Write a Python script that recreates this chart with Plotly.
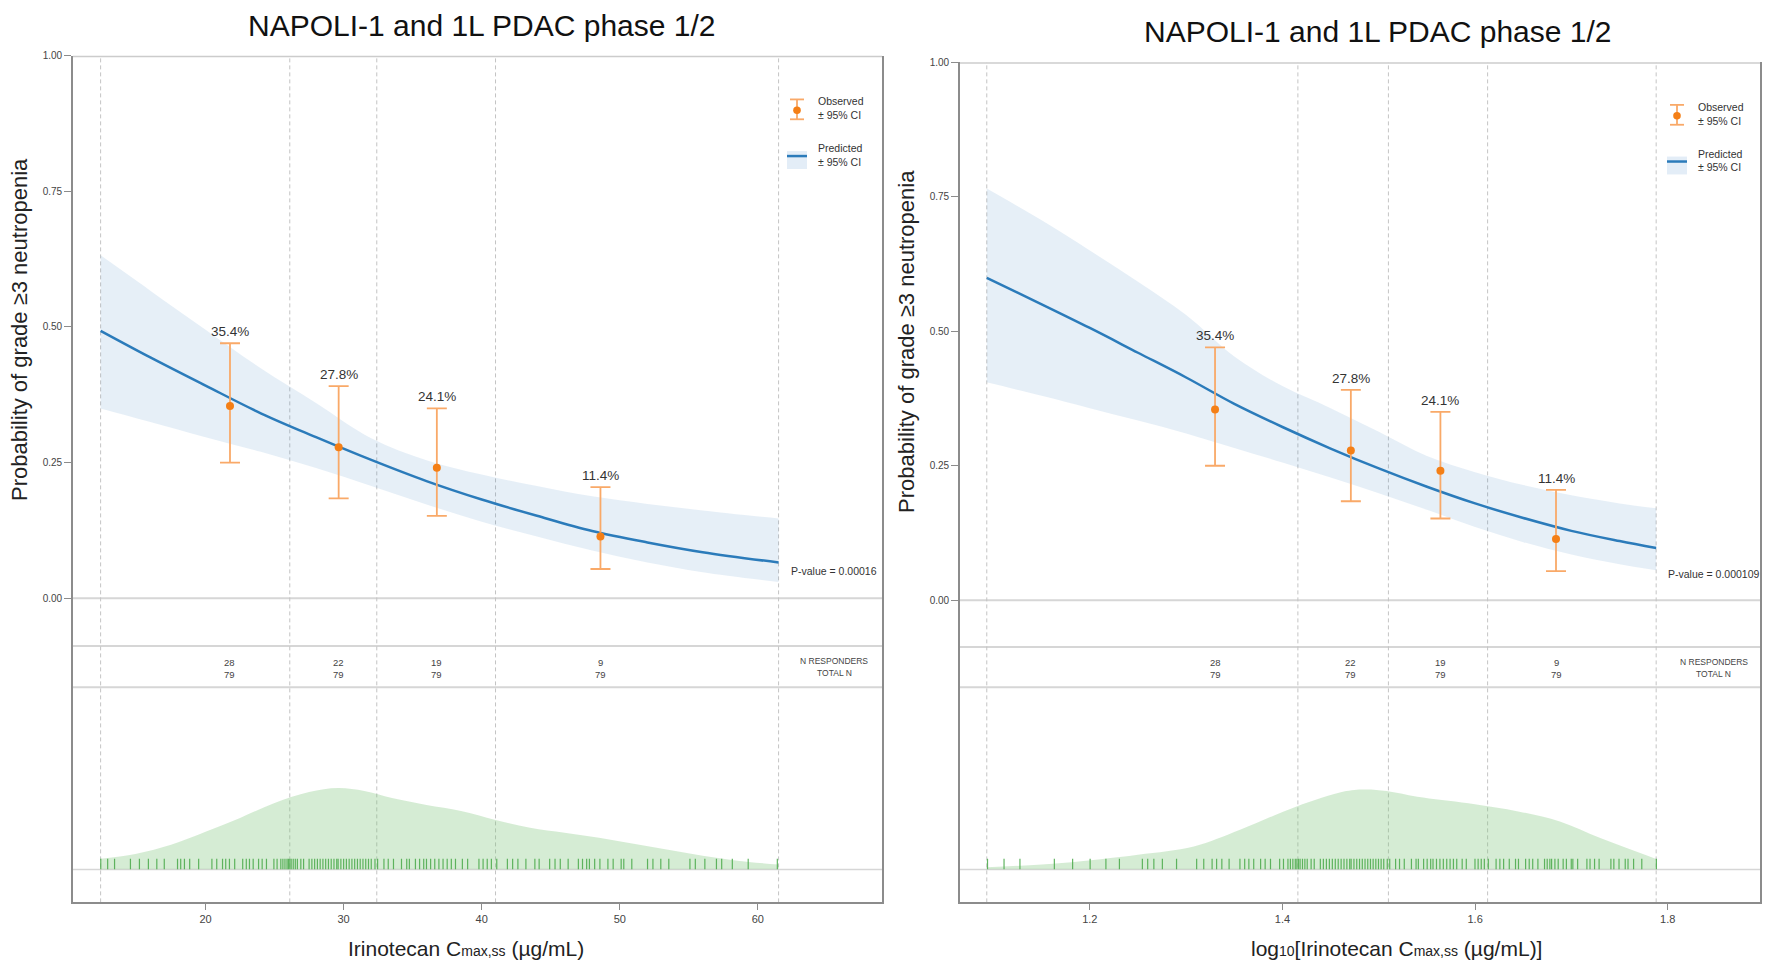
import plotly.graph_objects as go
import math

W, H = 1771, 964

# ---------------- data ----------------
panel_title = "NAPOLI-1 and 1L PDAC phase 1/2"
n_responders = [28, 22, 19, 9]
n_total = [79, 79, 79, 79]
obs_ci_lower = [0.250, 0.184, 0.152, 0.054]
obs_ci_upper = [0.470, 0.391, 0.350, 0.205]
p_value_lin = "0.00016"
p_value_log = "0.000109"

# left panel: Cmax (µg/mL)
bin_edges_lin = [12.4, 26.1, 32.4, 41.0, 61.5]
obs_x_lin = [21.77, 29.64, 36.75, 48.6]
pred_x_lin = [12.4, 16, 20, 24, 28, 32, 36, 40, 44, 48, 52, 56, 61.5]
pred_lin = [0.493, 0.444, 0.392, 0.341, 0.297, 0.255, 0.216, 0.182, 0.152, 0.124, 0.103, 0.085, 0.066]
pred_lin_upper = [0.632, 0.567, 0.495, 0.424, 0.360, 0.295, 0.2545, 0.228, 0.207, 0.188, 0.174, 0.162, 0.147]
pred_lin_lower = [0.350, 0.325, 0.297, 0.270, 0.240, 0.207, 0.173, 0.141, 0.114, 0.088, 0.066, 0.048, 0.030]
dens_x_lin = [12.4, 15, 17.5, 20, 22.5, 25, 27.5, 29.6, 31.5, 33.5, 36, 38.5, 41, 43.5, 46, 48.5, 51, 53.5, 56, 58.5, 61.5]
dens_lin = [11, 16, 25, 38, 52, 67, 78, 82, 79, 72, 65, 59, 50, 42, 37, 32, 26, 20, 14, 9, 5]

# right panel: log10 Cmax
bin_edges_log = [1.093, 1.416, 1.510, 1.613, 1.788]
obs_x_log = [1.330, 1.471, 1.564, 1.684]
pred_x_log = [1.093, 1.15, 1.20, 1.25, 1.30, 1.35, 1.40, 1.45, 1.50, 1.55, 1.60, 1.65, 1.70, 1.75, 1.788]
pred_log = [0.599, 0.550, 0.506, 0.460, 0.414, 0.365, 0.322, 0.282, 0.245, 0.211, 0.180, 0.153, 0.129, 0.110, 0.097]
pred_log_upper = [0.765, 0.706, 0.650, 0.592, 0.530, 0.453, 0.398, 0.357, 0.313, 0.268, 0.238, 0.214, 0.195, 0.180, 0.171]
pred_log_lower = [0.405, 0.380, 0.357, 0.334, 0.310, 0.283, 0.256, 0.228, 0.199, 0.168, 0.136, 0.108, 0.085, 0.067, 0.056]
dens_x_log = [1.093, 1.171, 1.250, 1.308, 1.356, 1.414, 1.466, 1.487, 1.508, 1.540, 1.593, 1.646, 1.688, 1.730, 1.788]
dens_log = [2.3, 6.7, 15, 23.3, 40, 63.3, 79, 80.7, 79, 73.3, 66.7, 58.3, 48.3, 31.7, 10.7]

# individual exposures (rug), µg/mL
rug_cmax = [12.41, 12.91, 13.41, 14.56, 15.21, 15.86, 16.47, 17.01, 17.97, 18.20, 18.47, 18.85, 19.50,
            20.46, 20.81, 21.23, 21.46, 21.73, 22.11, 22.69, 22.95, 23.18, 23.45, 23.84, 24.10, 24.41,
            24.95, 25.18, 25.45, 25.6, 25.75, 25.9, 26.0, 26.1, 26.2, 26.35, 26.5, 26.65, 26.9, 27.1,
            27.5, 27.7, 27.9, 28.1, 28.3, 28.5, 28.7, 28.9, 29.1, 29.3, 29.5, 29.6, 29.8, 30.0, 30.2,
            30.4, 30.6, 30.8, 31.0, 31.2, 31.4, 31.6, 31.8, 32.0, 32.27, 32.46, 32.92, 33.23, 33.61,
            34.19, 34.57, 34.76, 35.2, 35.5, 35.8, 36.0, 36.3, 36.6, 36.9, 37.2, 37.5, 37.8, 38.1, 38.6,
            38.98, 39.8, 40.1, 40.4, 40.7, 41.09, 41.86, 42.24, 42.62, 43.2, 43.85, 44.16, 44.92, 45.31,
            45.69, 46.26, 47.0, 47.3, 47.6, 47.8, 48.18, 48.56, 49.14, 49.52, 50.1, 50.29, 50.87, 52.01,
            52.4, 52.97, 53.55, 55.08, 55.47, 56.16, 57.0, 57.38, 58.15, 59.3, 61.41]
rug_log = [math.log10(v) for v in rug_cmax]

x_ticks_lin = [20, 30, 40, 50, 60]
x_ticks_log = [1.2, 1.4, 1.6, 1.8]
y_ticks = [0, 0.25, 0.5, 0.75, 1.0]

# ---------------- styles ----------------
FONT = "Liberation Sans, Arial, sans-serif"
BLUE = "#2b7bba"
BAND = "rgba(60,130,195,0.13)"
BAND_LEG = "#e3edf7"
ORANGE_BAR = "#f9a968"
ORANGE_DOT = "#f47f16"
GREEN_FILL = "rgba(125,195,120,0.32)"
GREEN_RUG = "rgba(80,172,80,0.9)"
FRAME = "#8c8c8c"
LIGHT = "#d6d6d6"
DASH = "#c4c4c4"


def px(x):
    return x / W


def py(y):
    return 1 - y / H


panels = [
    dict(xa="x", ya="y", ya_d="y3", xname="xaxis", yname="yaxis", dname="yaxis3",
         left=73, right=882, top=50, zero=596, bottom=902,
         xrange=[10.40, 68.99], xticks=x_ticks_lin,
         edges=bin_edges_lin, ox=obs_x_lin, predx=pred_x_lin, pred=pred_lin,
         up=pred_lin_upper, lo=pred_lin_lower, dx=dens_x_lin, d=dens_lin, rug=rug_cmax,
         title_x=482, title_y=20, ytitle_x=20, ytitle_y=326,
         xtitle="Irinotecan C<span style='font-size:14px'>max,ss</span> (µg/mL)",
         xtitle_x=466, nband=(644, 685.5), nrow=(660.5, 672.5), nlab_x=834,
         pval=p_value_lin, pval_x=834, pval_y=569, leg_dx=0, leg_dy=0),
    dict(xa="x2", ya="y2", ya_d="y4", xname="xaxis2", yname="yaxis2", dname="yaxis4",
         left=960, right=1760, top=56.5, zero=598, bottom=902,
         xrange=[1.0652, 1.8958], xticks=x_ticks_log,
         edges=bin_edges_log, ox=obs_x_log, predx=pred_x_log, pred=pred_log,
         up=pred_log_upper, lo=pred_log_lower, dx=dens_x_log, d=dens_log, rug=rug_log,
         title_x=1378, title_y=25.5, ytitle_x=907, ytitle_y=338,
         xtitle="log<span style='font-size:14px'>10</span>[Irinotecan C<span style='font-size:14px'>max,ss</span> (µg/mL)]",
         xtitle_x=1396, nband=(645, 685.6), nrow=(661, 673), nlab_x=1713.5,
         pval=p_value_log, pval_x=1714, pval_y=571.5, leg_dx=880, leg_dy=5.5),
]

fig = go.Figure()
shapes = []
annotations = []
layout = {}

for p in panels:
    ymin = -(p["bottom"] - p["zero"]) / (p["zero"] - p["top"])
    xa, ya, yd = p["xa"], p["ya"], p["ya_d"]

    # prediction band
    fig.add_trace(go.Scatter(x=p["predx"], y=p["lo"], xaxis=xa, yaxis=ya, mode="lines",
                             line=dict(width=0, color=BAND, shape="spline"), showlegend=False,
                             hoverinfo="skip"))
    fig.add_trace(go.Scatter(x=p["predx"], y=p["up"], xaxis=xa, yaxis=ya, mode="lines",
                             fill="tonexty", fillcolor=BAND,
                             line=dict(width=0, color=BAND, shape="spline"), showlegend=False,
                             hoverinfo="skip"))
    # predicted curve
    fig.add_trace(go.Scatter(x=p["predx"], y=p["pred"], xaxis=xa, yaxis=ya, mode="lines",
                             line=dict(width=2.5, color=BLUE, shape="spline"), showlegend=False))
    # observed
    props = [r / t for r, t in zip(n_responders, n_total)]
    fig.add_trace(go.Scatter(
        x=p["ox"], y=props, xaxis=xa, yaxis=ya, mode="markers",
        marker=dict(size=8, color=ORANGE_DOT),
        error_y=dict(type="data", symmetric=False,
                     array=[u - v for u, v in zip(obs_ci_upper, props)],
                     arrayminus=[v - l for v, l in zip(props, obs_ci_lower)],
                     color=ORANGE_BAR, thickness=1.8, width=10),
        showlegend=False))
    # density
    fig.add_trace(go.Scatter(x=p["dx"], y=p["d"], xaxis=xa, yaxis=yd, mode="lines",
                             fill="tozeroy", fillcolor=GREEN_FILL,
                             line=dict(width=0, color=GREEN_FILL, shape="spline"),
                             showlegend=False, hoverinfo="skip"))
    # rug
    rx, ry = [], []
    for v in p["rug"]:
        rx += [v, v, None]
        ry += [0, 11, None]
    fig.add_trace(go.Scatter(x=rx, y=ry, xaxis=xa, yaxis=yd, mode="lines",
                             line=dict(width=1.2, color=GREEN_RUG), showlegend=False,
                             hoverinfo="skip"))

    # axes
    layout[p["xname"]] = dict(
        domain=[px(p["left"]), px(p["right"])], range=p["xrange"], anchor=ya,
        tickmode="array", tickvals=p["xticks"], ticks="outside", ticklen=6, tickwidth=1.2,
        tickcolor=FRAME, showline=True, linecolor=FRAME, linewidth=1.6, mirror=False,
        showgrid=False, zeroline=False, tickfont=dict(size=11, color="#444", family=FONT))
    layout[p["yname"]] = dict(
        domain=[py(p["bottom"]), py(p["top"])], range=[ymin, 1.0], anchor=xa,
        tickmode="array", tickvals=y_ticks, tickformat=".2f", ticks="outside", ticklen=7,
        tickwidth=1.2, tickcolor=FRAME, showline=True, linecolor=FRAME, linewidth=1.6,
        mirror=True, showgrid=False, zeroline=False,
        tickfont=dict(size=10, color="#444", family=FONT))
    layout[p["dname"]] = dict(domain=[py(869), py(769)], range=[0, 100], anchor=xa,
                              visible=False, fixedrange=True)

    xdom = xa + " domain"
    # dashed vertical lines at bin edges
    for e in p["edges"]:
        shapes.append(dict(type="line", xref=xa, yref=ya, x0=e, x1=e, y0=ymin, y1=1.0,
                           line=dict(color=DASH, width=1, dash="4px,3px"), layer="below"))
    # horizontal reference lines
    shapes.append(dict(type="line", xref=xdom, yref=ya, x0=0, x1=1, y0=0, y1=0,
                       line=dict(color=LIGHT, width=2), layer="below"))
    shapes.append(dict(type="line", xref=xdom, yref=ya, x0=0, x1=1, y0=1, y1=1,
                       line=dict(color="#cccccc", width=3), layer="below"))
    for yb in p["nband"]:
        shapes.append(dict(type="line", xref=xdom, yref="paper", x0=0, x1=1,
                           y0=py(yb), y1=py(yb), line=dict(color=LIGHT, width=2), layer="below"))
    shapes.append(dict(type="line", xref=xdom, yref="paper", x0=0, x1=1,
                       y0=py(869), y1=py(869), line=dict(color=LIGHT, width=1.5), layer="below"))

    # titles
    annotations.append(dict(text=panel_title, xref="paper", yref="paper",
                            x=px(p["title_x"]), y=py(p["title_y"]), xanchor="center",
                            yanchor="middle", showarrow=False,
                            font=dict(size=30, color="#111", family=FONT)))
    annotations.append(dict(text="Probability of grade ≥3 neutropenia", xref="paper",
                            yref="paper", x=px(p["ytitle_x"]), y=py(p["ytitle_y"]),
                            xanchor="center", yanchor="middle", textangle=-90, showarrow=False,
                            font=dict(size=22, color="#222", family=FONT)))
    annotations.append(dict(text=p["xtitle"], xref="paper", yref="paper",
                            x=px(p["xtitle_x"]), y=py(948), xanchor="center", yanchor="middle",
                            showarrow=False, font=dict(size=21, color="#222", family=FONT)))
    # percentage labels and N rows
    for xv, r, t, u in zip(p["ox"], n_responders, n_total, obs_ci_upper):
        annotations.append(dict(text=f"{100 * r / t:.1f}%", xref=xa, yref=ya, x=xv, y=u,
                                xanchor="center", yanchor="bottom", yshift=2, showarrow=False,
                                font=dict(size=13.5, color="#333", family=FONT)))
        annotations.append(dict(text=str(r), xref=xa, yref="paper", x=xv, y=py(p["nrow"][0]),
                                xanchor="center", yanchor="middle", showarrow=False,
                                font=dict(size=9.5, color="#444", family=FONT)))
        annotations.append(dict(text=str(t), xref=xa, yref="paper", x=xv, y=py(p["nrow"][1]),
                                xanchor="center", yanchor="middle", showarrow=False,
                                font=dict(size=9.5, color="#444", family=FONT)))
    annotations.append(dict(text="N RESPONDERS", xref="paper", yref="paper",
                            x=px(p["nlab_x"]), y=py(p["nrow"][0] - 1), xanchor="center",
                            yanchor="middle", showarrow=False,
                            font=dict(size=8.5, color="#444", family=FONT)))
    annotations.append(dict(text="TOTAL N", xref="paper", yref="paper",
                            x=px(p["nlab_x"]), y=py(p["nrow"][1] - 1), xanchor="center",
                            yanchor="middle", showarrow=False,
                            font=dict(size=8.5, color="#444", family=FONT)))
    annotations.append(dict(text=f"P-value = {p['pval']}", xref="paper", yref="paper",
                            x=px(p["pval_x"]), y=py(p["pval_y"]), xanchor="center",
                            yanchor="middle", showarrow=False,
                            font=dict(size=10.5, color="#333", family=FONT)))

    # custom legend
    dx, dy = p["leg_dx"], p["leg_dy"]
    cx = 797 + dx
    shapes.append(dict(type="line", xref="paper", yref="paper", x0=px(cx), x1=px(cx),
                       y0=py(94 + dy), y1=py(114 + dy), line=dict(color=ORANGE_BAR, width=1.8)))
    for cy in (94, 114):
        shapes.append(dict(type="line", xref="paper", yref="paper", x0=px(cx - 7), x1=px(cx + 7),
                           y0=py(cy + dy), y1=py(cy + dy), line=dict(color=ORANGE_BAR, width=1.8)))
    shapes.append(dict(type="circle", xref="paper", yref="paper", x0=px(cx - 3.8), x1=px(cx + 3.8),
                       y0=py(105 + dy - 3.8), y1=py(105 + dy + 3.8),
                       fillcolor=ORANGE_DOT, line=dict(width=0)))
    shapes.append(dict(type="rect", xref="paper", yref="paper", x0=px(787 + dx), x1=px(807 + dx),
                       y0=py(146 + dy), y1=py(164 + dy), fillcolor=BAND_LEG, line=dict(width=0)))
    shapes.append(dict(type="line", xref="paper", yref="paper", x0=px(787 + dx), x1=px(807 + dx),
                       y0=py(151 + dy), y1=py(151 + dy), line=dict(color=BLUE, width=2.5)))
    for txt, yy in (("Observed", 96), ("± 95% CI", 110), ("Predicted", 143), ("± 95% CI", 157)):
        annotations.append(dict(text=txt, xref="paper", yref="paper", x=px(816 + dx),
                                y=py(yy + dy), xanchor="left", yanchor="middle", showarrow=False,
                                font=dict(size=10.5, color="#333", family=FONT)))

fig.update_layout(
    width=W, height=H, margin=dict(l=0, r=0, t=0, b=0),
    paper_bgcolor="white", plot_bgcolor="rgba(0,0,0,0)", showlegend=False,
    font=dict(family=FONT), shapes=shapes, annotations=annotations, **layout)

fig.write_html("out.html")
